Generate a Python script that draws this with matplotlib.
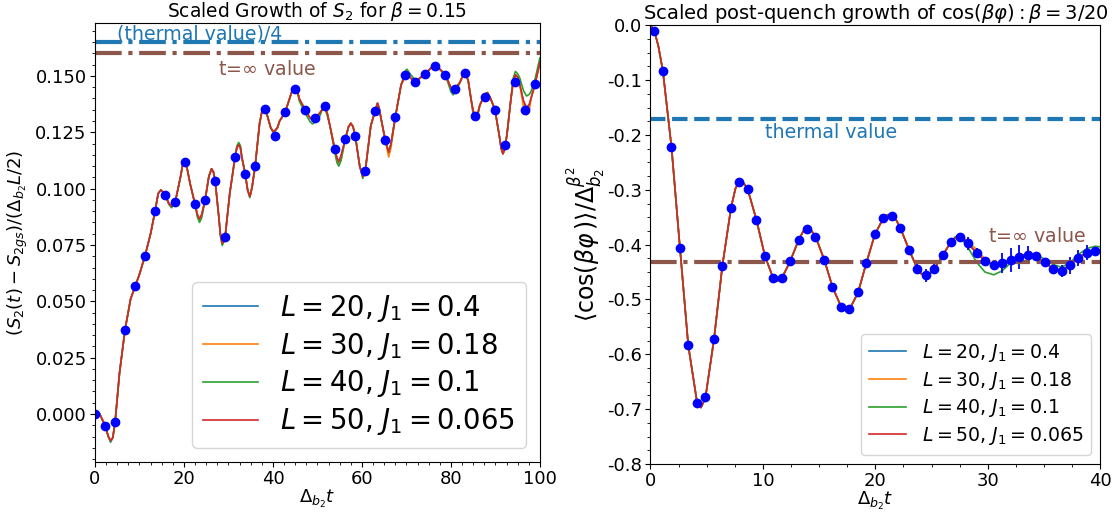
import numpy as np
import matplotlib
matplotlib.use("Agg")
import matplotlib.pyplot as plt
from matplotlib.ticker import AutoMinorLocator, MultipleLocator

plt.rcParams['axes.unicode_minus'] = False

labels = [r'$L=20$, $J_1=0.4$', r'$L=30$, $J_1=0.18$',
          r'$L=40$, $J_1=0.1$', r'$L=50$, $J_1=0.065$']
colors = ['tab:blue', 'tab:orange', 'tab:green', 'tab:red']

# ---------------- left panel : S2 growth ----------------
s2_t = [0.0, 1.0, 2.25, 3.0, 3.5, 4.0, 4.5, 5.5, 6.75, 8.0, 9.0, 10.0, 11.25,
        12.5, 13.5, 14.2, 14.8, 15.3, 15.75, 16.6, 17.2, 17.7, 18.0, 19.2,
        19.7, 20.2, 20.7, 21.4, 22.5, 23.0, 23.5, 24.0, 24.75, 25.6, 26.2,
        26.6, 27.0, 27.8, 28.2, 28.6, 28.95, 29.25, 30.3, 31.5, 31.9, 32.3,
        32.7, 33.0, 33.75, 34.3, 34.8, 35.3, 36.0, 37.0, 37.5, 37.9, 38.5,
        39.5, 40.0, 40.4, 41.0, 41.5, 42.75, 44.2, 44.9, 45.5, 45.9, 47.25,
        48.3, 48.9, 49.5, 50.5, 51.1, 51.7, 52.2, 52.8, 53.9, 54.4, 54.8,
        55.3, 56.25, 57.0, 57.5, 58.0, 58.5, 59.5, 60.2, 60.75, 62.0, 63.0,
        63.5, 63.9, 64.3, 65.25, 66.0, 66.5, 67.5, 68.8, 69.75, 70.1, 71.0,
        72.0, 73.0, 74.25, 75.5, 76.3, 77.0, 77.5, 78.75, 80.0, 80.5, 81.2,
        82.0, 82.7, 83.3, 83.9, 84.5, 85.0, 85.5, 86.0, 86.5, 87.6, 88.2,
        88.8, 89.9, 91.0, 91.3, 91.7, 92.1, 92.6, 93.5, 94.0, 94.5, 95.0,
        95.5, 96.3, 97.0, 97.6, 98.0, 98.9, 100.0]
s2_l50 = [0.0, 0.0002, -0.005, -0.010, -0.0118, -0.0105, -0.004, 0.018,
          0.0374, 0.051, 0.0565, 0.062, 0.0703, 0.080, 0.090, 0.0978, 0.0994,
          0.0985, 0.0972, 0.0935, 0.0922, 0.0928, 0.0938, 0.105, 0.1105,
          0.1124, 0.109, 0.102, 0.093, 0.0885, 0.0865, 0.0885, 0.095, 0.1055,
          0.1088, 0.1075, 0.1036, 0.088, 0.0795, 0.0757, 0.0765, 0.0786,
          0.098, 0.1142, 0.1182, 0.1195, 0.1180, 0.114, 0.1067, 0.0995,
          0.0965, 0.1005, 0.1101, 0.129, 0.1340, 0.1361, 0.134, 0.127,
          0.1255, 0.1257, 0.127, 0.130, 0.1339, 0.1428, 0.1448, 0.1432,
          0.140, 0.1349, 0.1315, 0.1305, 0.1312, 0.1335, 0.1352, 0.1362,
          0.1335, 0.128, 0.1176, 0.1135, 0.1122, 0.1145, 0.1219, 0.1275,
          0.1290, 0.1275, 0.1234, 0.110, 0.1053, 0.1079, 0.128, 0.1346,
          0.1379, 0.1355, 0.131, 0.1215, 0.1162, 0.1195, 0.1317, 0.146,
          0.1502, 0.1512, 0.149, 0.1474, 0.149, 0.1509, 0.1535, 0.1548,
          0.1542, 0.153, 0.1506, 0.1448, 0.1436, 0.1452, 0.147, 0.1502,
          0.1512, 0.1478, 0.140, 0.1345, 0.1322, 0.1332, 0.137, 0.1418,
          0.1426, 0.1405, 0.1351, 0.122, 0.1178, 0.1155, 0.1175, 0.124,
          0.140, 0.1472, 0.1505, 0.1495, 0.146, 0.139, 0.136, 0.1372, 0.140,
          0.1463, 0.156]
# where the other sizes leave the red curve
s2_l40_ecarts = {3.5: -0.0122, 16.6: 0.0930, 17.2: 0.0915, 23.0: 0.0875,
                 23.5: 0.0850, 24.0: 0.0872, 28.2: 0.0790, 28.6: 0.0748,
                 31.9: 0.1190, 32.3: 0.1205, 32.7: 0.1190, 34.8: 0.0960,
                 37.9: 0.1366, 40.0: 0.1250, 40.4: 0.1252, 45.9: 0.1390,
                 47.25: 0.1335, 48.3: 0.1298, 48.9: 0.1287, 49.5: 0.1295,
                 50.5: 0.1320, 51.7: 0.1355, 52.2: 0.1325, 53.9: 0.1160,
                 54.4: 0.1115, 54.8: 0.1100, 55.3: 0.1125, 60.2: 0.1045,
                 69.75: 0.1522, 70.1: 0.1530, 71.0: 0.1505, 72.0: 0.1482,
                 80.0: 0.1430, 80.5: 0.1416, 81.2: 0.1435, 85.0: 0.1330,
                 85.5: 0.1305, 86.0: 0.1318, 94.0: 0.1490, 94.5: 0.1520,
                 95.0: 0.1510, 95.5: 0.1490, 96.3: 0.1435, 97.0: 0.1411,
                 97.6: 0.1418, 98.0: 0.1430, 98.9: 0.1485, 100.0: 0.1580}
s2_l30_ecarts = {28.6: 0.0752, 54.4: 0.1118, 54.8: 0.1105, 55.3: 0.1128,
                 66.0: 0.1140, 66.5: 0.1178, 80.5: 0.1425, 85.5: 0.1310,
                 96.3: 0.1365, 97.0: 0.1327, 97.6: 0.1340}
s2_l20_ecarts = {3.5: -0.0125, 54.8: 0.1112, 97.0: 0.1350}

s2_dots_t = np.arange(45) * 2.25
s2_dots = [0.0, -0.0055, -0.0037, 0.0374, 0.0568, 0.0703, 0.0900, 0.0973,
           0.0941, 0.1117, 0.0933, 0.0951, 0.1036, 0.0786, 0.1142, 0.1067,
           0.1101, 0.1352, 0.1235, 0.1339, 0.1443, 0.1349, 0.1312, 0.1366,
           0.1176, 0.1219, 0.1234, 0.1079, 0.1346, 0.1215, 0.1317, 0.1502,
           0.1471, 0.1509, 0.1542, 0.1506, 0.1443, 0.1512, 0.1324, 0.1408,
           0.1351, 0.1194, 0.1474, 0.1348, 0.1463]
s2_thermal_quarter = 0.165
s2_t_inf = 0.160

# ---------------- right panel : cos(beta phi) ----------------
cos_t = [0.0, 0.34, 0.7, 1.1, 1.87, 2.62, 3.36, 4.13, 4.49, 4.88, 5.65, 6.39,
         7.16, 7.55, 7.9, 8.3, 8.64, 9.41, 10.18, 10.92, 11.3, 11.66, 12.43,
         13.17, 13.6, 13.95, 14.3, 14.69, 15.46, 16.2, 16.97, 17.35, 17.72,
         18.45, 19.2, 19.96, 20.7, 21.1, 21.47, 21.85, 22.22, 22.99, 23.73,
         24.1, 24.5, 24.9, 25.24, 25.98, 26.72, 27.1, 27.49, 27.85, 28.23,
         29.0, 29.75, 30.52, 31.26, 32.0, 32.76, 33.51, 34.25, 35.02, 35.77,
         36.53, 37.27, 38.04, 38.81, 39.55, 40.0]
cos_l50 = [0.0, -0.010, -0.038, -0.083, -0.2225, -0.406, -0.584, -0.686,
           -0.697, -0.680, -0.572, -0.439, -0.333, -0.298, -0.2845, -0.288,
           -0.2985, -0.354, -0.421, -0.4615, -0.466, -0.462, -0.430, -0.3915,
           -0.375, -0.371, -0.374, -0.386, -0.428, -0.478, -0.514, -0.519,
           -0.517, -0.488, -0.433, -0.381, -0.352, -0.3455, -0.346, -0.355,
           -0.3696, -0.409, -0.444, -0.4535, -0.456, -0.452, -0.444, -0.4195,
           -0.395, -0.3875, -0.386, -0.390, -0.398, -0.415, -0.430, -0.437,
           -0.435, -0.428, -0.421, -0.418, -0.421, -0.432, -0.443, -0.447,
           -0.438, -0.424, -0.414, -0.411, -0.410]
cos_l40_ecarts = {27.1: -0.3855, 27.85: -0.394, 28.23: -0.405, 29.0: -0.432,
                  29.75: -0.450, 30.52: -0.455, 31.26: -0.448, 32.0: -0.434,
                  32.76: -0.422, 33.51: -0.417, 34.25: -0.418, 35.02: -0.426,
                  35.77: -0.436, 36.53: -0.441, 37.27: -0.434, 38.04: -0.418,
                  38.81: -0.407, 39.55: -0.403, 40.0: -0.404}
cos_l30_ecarts = {27.85: -0.388, 28.23: -0.394, 29.0: -0.409, 29.75: -0.426}
cos_l20_ecarts = {}

cos_dots_t = np.linspace(0.34, 39.57, 53)
cos_dots = [-0.0098, -0.0833, -0.2225, -0.4061, -0.5836, -0.6881, -0.6771,
            -0.5721, -0.4389, -0.3331, -0.2857, -0.2985, -0.3544, -0.4213,
            -0.4614, -0.4614, -0.4298, -0.3915, -0.372, -0.386, -0.428,
            -0.478, -0.513, -0.5167, -0.4863, -0.4328, -0.3806, -0.352,
            -0.3477, -0.3696, -0.4091, -0.4438, -0.4559, -0.4438, -0.4195,
            -0.3952, -0.3866, -0.3976, -0.4146, -0.4304, -0.4365, -0.4341,
            -0.428, -0.4219, -0.4182, -0.4207, -0.4316, -0.4438, -0.4474,
            -0.4377, -0.4243, -0.4146, -0.4116]
cos_err = [0.0] * 31 + [0.010, 0.012, 0.008, 0.003, 0.003, 0.007, 0.012,
                        0.008, 0.004, 0.008, 0.018, 0.022, 0.022, 0.015,
                        0.004, 0.003, 0.004, 0.011, 0.015, 0.015, 0.014,
                        0.006]
cos_thermal = -0.17
cos_t_inf = -0.431


def appliquer_ecarts(t, base, ecarts):
    vals = list(base)
    for t_val, v in ecarts.items():
        vals[t.index(t_val)] = v
    return vals


def panneau_gauche(ax):
    series = [appliquer_ecarts(s2_t, s2_l50, s2_l20_ecarts),
              appliquer_ecarts(s2_t, s2_l50, s2_l30_ecarts),
              appliquer_ecarts(s2_t, s2_l50, s2_l40_ecarts),
              s2_l50]
    for vals, c, lab in zip(series, colors, labels):
        ax.plot(s2_t, vals, color=c, lw=1.2, label=lab)
    ax.plot(s2_dots_t, s2_dots, 'o', color='blue', ms=6)
    ax.axhline(s2_thermal_quarter, color='tab:blue', ls='-.', lw=3)
    ax.axhline(s2_t_inf, color='tab:brown', ls='-.', lw=3)
    ax.text(5.0, 0.1688, '(thermal value)/4', color='tab:blue',
            fontsize=13.7, va='center')
    ax.text(27.6, 0.1527, r't=$\infty$ value', color='tab:brown',
            fontsize=13.7, va='center')
    ax.set_xlim(0, 100)
    ax.set_ylim(-0.0213, 0.1735)
    ax.yaxis.set_major_locator(MultipleLocator(0.025))
    ax.xaxis.set_minor_locator(AutoMinorLocator(8))
    ax.yaxis.set_minor_locator(AutoMinorLocator(5))
    ax.tick_params(labelsize=13, pad=2.5)
    ax.set_title(r'Scaled Growth of $S_2$ for $\beta=0.15$', fontsize=13.4, pad=4)
    ax.set_xlabel(r'$\Delta_{b_2}t$', fontsize=13, labelpad=0)
    ax.set_ylabel(r'$(S_2(t)-S_{2gs})/(\Delta_{b_2}L/2)$', fontsize=13)
    ax.legend(loc='lower right', fontsize=19.8, labelspacing=0.25)


def panneau_droit(ax):
    series = [appliquer_ecarts(cos_t, cos_l50, cos_l20_ecarts),
              appliquer_ecarts(cos_t, cos_l50, cos_l30_ecarts),
              appliquer_ecarts(cos_t, cos_l50, cos_l40_ecarts),
              cos_l50]
    for vals, c, lab in zip(series, colors, labels):
        ax.plot(cos_t, vals, color=c, lw=1.2, label=lab)
    ax.errorbar(cos_dots_t, cos_dots, yerr=cos_err, fmt='o', color='blue',
                ms=6, elinewidth=1.3, capsize=0)
    ax.axhline(cos_thermal, color='tab:blue', ls='--', lw=3)
    ax.axhline(cos_t_inf, color='tab:brown', ls='-.', lw=3)
    ax.text(10.2, -0.1964, 'thermal value', color='tab:blue',
            fontsize=13.7, va='center')
    ax.text(30.0, -0.386, r't=$\infty$ value', color='tab:brown',
            fontsize=13.7, va='center')
    ax.set_xlim(0, 40)
    ax.set_ylim(-0.8, 0.0)
    ax.xaxis.set_major_locator(MultipleLocator(10))
    ax.yaxis.set_major_locator(MultipleLocator(0.1))
    ax.xaxis.set_minor_locator(AutoMinorLocator(4))
    ax.yaxis.set_minor_locator(AutoMinorLocator(4))
    ax.tick_params(labelsize=13, pad=2.5)
    ax.set_title(r'Scaled post-quench growth of $\cos(\beta\varphi):\beta=3/20$',
                 fontsize=14, pad=4)
    ax.set_xlabel(r'$\Delta_{b_2}t$', fontsize=13, labelpad=0)
    ax.set_ylabel(r'$\langle\cos(\beta\varphi\,)\rangle/\Delta_{b_2}^{\beta^2}$',
                  fontsize=17, labelpad=0)
    ax.legend(loc='lower right', fontsize=13.6, labelspacing=0.3)


fig = plt.figure(figsize=(11.15, 5.13), dpi=100)
ax1 = fig.add_axes([0.0852, 0.0994, 0.399, 0.8558])
ax2 = fig.add_axes([0.5834, 0.0955, 0.4034, 0.8552])
panneau_gauche(ax1)
panneau_droit(ax2)
fig.savefig('out.png', dpi=100)
